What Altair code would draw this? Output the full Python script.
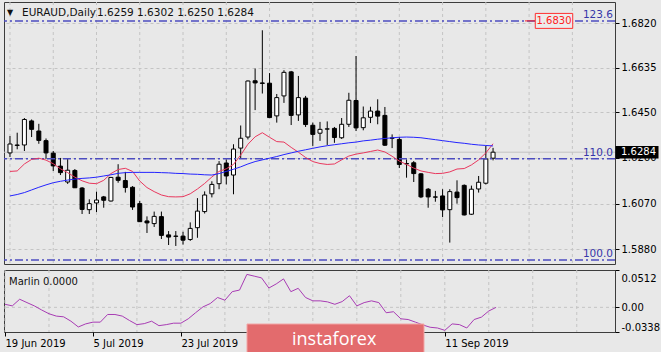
import altair as alt
import pandas as pd

# ---------------- data ----------------
opens = [1.6281, 1.6312, 1.6314, 1.6414, 1.6372, 1.6332, 1.6280, 1.6226, 1.6160, 1.6208,
         1.6135, 1.6045, 1.6073, 1.6098, 1.6081, 1.6180, 1.6166, 1.6138, 1.6070, 1.5998,
         1.5987, 1.6016, 1.5940, 1.5935, 1.5935, 1.5921, 1.5970, 1.6037, 1.6111, 1.6153,
         1.6239, 1.6189, 1.6301, 1.6347, 1.6581, 1.6572, 1.6571, 1.6435, 1.6518, 1.6618,
         1.6439, 1.6509, 1.6396, 1.6363, 1.6380, 1.6383, 1.6344, 1.6400, 1.6499, 1.6386,
         1.6429, 1.6455, 1.6437, 1.6342, 1.6337, 1.6237, 1.6240, 1.6194, 1.6130, 1.6098,
         1.6102, 1.6045, 1.6118, 1.6146, 1.6026, 1.6131, 1.6155, 1.6259]
highs = [1.6351, 1.6365, 1.6426, 1.6420, 1.6402, 1.6341, 1.6289, 1.6260, 1.6258, 1.6214,
         1.6139, 1.6088, 1.6120, 1.6102, 1.6181, 1.6234, 1.6202, 1.6143, 1.6081, 1.6017,
         1.6037, 1.6037, 1.5956, 1.5956, 1.5953, 1.5992, 1.6093, 1.6121, 1.6163, 1.6247,
         1.6254, 1.6317, 1.6395, 1.6582, 1.6632, 1.6791, 1.6613, 1.6526, 1.6625, 1.6622,
         1.6601, 1.6518, 1.6407, 1.6410, 1.6412, 1.6389, 1.6426, 1.6531, 1.6684, 1.6474,
         1.6473, 1.6504, 1.6472, 1.6358, 1.6347, 1.6254, 1.6247, 1.6197, 1.6135, 1.6123,
         1.6130, 1.6130, 1.6167, 1.6150, 1.6145, 1.6185, 1.6310, 1.6302]
lows = [1.6264, 1.6296, 1.6289, 1.6347, 1.6319, 1.6256, 1.6206, 1.6189, 1.6152, 1.6135,
        1.6027, 1.6027, 1.6035, 1.6053, 1.6079, 1.6157, 1.6116, 1.6044, 1.5994, 1.5948,
        1.5973, 1.5923, 1.5898, 1.5894, 1.5900, 1.5915, 1.5928, 1.6029, 1.6096, 1.6130,
        1.6150, 1.6109, 1.6256, 1.6337, 1.6459, 1.6528, 1.6426, 1.6407, 1.6489, 1.6397,
        1.6414, 1.6389, 1.6310, 1.6331, 1.6314, 1.6323, 1.6339, 1.6389, 1.6372, 1.6375,
        1.6405, 1.6400, 1.6310, 1.6301, 1.6218, 1.6178, 1.6160, 1.6093, 1.6053, 1.6078,
        1.6014, 1.5908, 1.6070, 1.6021, 1.6023, 1.6116, 1.6150, 1.6250]
closes = [1.6318, 1.6314, 1.6420, 1.6379, 1.6333, 1.6281, 1.6227, 1.6199, 1.6209, 1.6136,
          1.6046, 1.6070, 1.6085, 1.6084, 1.6179, 1.6167, 1.6137, 1.6056, 1.5995, 1.5990,
          1.6017, 1.5938, 1.5931, 1.5934, 1.5918, 1.5967, 1.6039, 1.6106, 1.6150, 1.6234,
          1.6185, 1.6297, 1.6342, 1.6580, 1.6572, 1.6570, 1.6428, 1.6511, 1.6616, 1.6437,
          1.6511, 1.6399, 1.6358, 1.6379, 1.6381, 1.6345, 1.6400, 1.6500, 1.6385, 1.6427,
          1.6455, 1.6434, 1.6313, 1.6343, 1.6233, 1.6235, 1.6195, 1.6098, 1.6098, 1.6097,
          1.6044, 1.6120, 1.6095, 1.6023, 1.6130, 1.6159, 1.6256, 1.6284]
ma_red = [1.6204, 1.6206, 1.6235, 1.6254, 1.6259, 1.6251, 1.6236, 1.6215, 1.6199, 1.6180,
          1.6165, 1.6155, 1.6153, 1.6167, 1.6195, 1.6212, 1.6217, 1.6204, 1.6164, 1.6137,
          1.6120, 1.6106, 1.6099, 1.6098, 1.6099, 1.6111, 1.6131, 1.6154, 1.6181, 1.6204,
          1.6215, 1.6233, 1.6272, 1.6317, 1.6348, 1.6365, 1.6346, 1.6328, 1.6326, 1.6304,
          1.6284, 1.6262, 1.6245, 1.6237, 1.6233, 1.6235, 1.6252, 1.6268, 1.6276, 1.6281,
          1.6287, 1.6293, 1.6285, 1.6267, 1.6247, 1.6233, 1.6218, 1.6206, 1.6200, 1.6195,
          1.6196, 1.6202, 1.6214, 1.6216, 1.6231, 1.6252, 1.6281, 1.6319]
ma_blue = [1.6102, 1.6108, 1.6116, 1.6127, 1.6138, 1.6148, 1.6157, 1.6163, 1.6168, 1.6172,
           1.6175, 1.6177, 1.6180, 1.6185, 1.6190, 1.6196, 1.6199, 1.6200, 1.6200, 1.6200,
           1.6200, 1.6199, 1.6198, 1.6196, 1.6195, 1.6193, 1.6192, 1.6190, 1.6189, 1.6195,
           1.6204, 1.6213, 1.6223, 1.6235, 1.6245, 1.6252, 1.6259, 1.6266, 1.6274, 1.6281,
           1.6288, 1.6294, 1.6300, 1.6306, 1.6311, 1.6315, 1.6319, 1.6323, 1.6326, 1.6331,
           1.6334, 1.6338, 1.6341, 1.6344, 1.6346, 1.6347, 1.6346, 1.6344, 1.6340, 1.6336,
           1.6332, 1.6328, 1.6324, 1.6321, 1.6317, 1.6314, 1.6312, 1.6310]
marlin = [0.0042, 0.0020, 0.0111, 0.0065, 0.0020, -0.0036, -0.0088, -0.0120, -0.0130, -0.0190,
          -0.0269, -0.0227, -0.0203, -0.0203, -0.0098, -0.0098, -0.0120, -0.0181, -0.0237, -0.0223,
          -0.0190, -0.0251, -0.0237, -0.0217, -0.0217, -0.0157, -0.0074, 0.0006, 0.0052, 0.0135,
          0.0098, 0.0215, 0.0237, 0.0452, 0.0428, 0.0404, 0.0265, 0.0321, 0.0390, 0.0215,
          0.0261, 0.0135, 0.0089, 0.0089, 0.0075, 0.0042, 0.0079, 0.0159, 0.0020, 0.0065,
          0.0089, 0.0065, -0.0074, -0.0060, -0.0157, -0.0167, -0.0203, -0.0241, -0.0273, -0.0283,
          -0.0315, -0.0227, -0.0237, -0.0283, -0.0167, -0.0134, -0.0050, 0.0000]

date_tick_idx = [0, 12, 24, 60]
date_tick_txt = ["19 Jun 2019", "5 Jul 2019", "23 Jul 2019", "11 Sep 2019"]
grid_idx = list(range(0, 84, 6))
price_ticks = [1.6820, 1.6635, 1.6450, 1.6260, 1.6070, 1.5880]
fib_levels = [1.5836, 1.6257, 1.6830]
fib_names = ["100.0", "110.0", "123.6"]
alert_price = [1.6830]
marlin_ticks = [0.0512, 0.0, -0.0338]
marlin_tick_txt = ["0.0512", "0.00", "-0.0338"]
symbol_name = "EURAUD,Daily"

# ---------------- frames ----------------
N = len(opens)
df = pd.DataFrame({"i": list(range(N)), "o": opens, "h": highs, "l": lows, "c": closes,
                   "red": ma_red, "blue": ma_blue, "m": marlin})
df["dir"] = ["up" if c >= o else "down" for o, c in zip(opens, closes)]
gdf = pd.DataFrame({"g": grid_idx})
fibdf = pd.DataFrame({"lvl": fib_levels, "name": fib_names})
cur = pd.DataFrame({"p": [closes[-1]], "t": [f"{closes[-1]:.4f}"]})
alert = pd.DataFrame({"p": alert_price, "t": [f"{alert_price[0]:.4f}"]})
hdr = pd.DataFrame({"a": ["\u25BC"], "n": [symbol_name],
                    "q": [f"{opens[-1]:.4f} {highs[-1]:.4f} {lows[-1]:.4f} {closes[-1]:.4f}"],
                    "mk": [f"Marlin {marlin[-1]:.4f}"], "w": ["instaforex"]})
zdf = pd.DataFrame({"z": [0.0]})

W, H_MAIN, H_SUB = 611, 262, 62
FONT = "DejaVu Sans"
GRID = "#c4c4c4"

xs = alt.Scale(domain=[-0.136, 83.22], nice=False, zero=False)
ys = alt.Scale(domain=[1.5819, 1.69086], nice=False, zero=False)
ms = alt.Scale(domain=[marlin_ticks[-1], marlin_ticks[0]], nice=False, zero=False)

yax = alt.Axis(orient="right", values=price_ticks, format=".4f", grid=True, gridDash=[3, 3],
               gridColor=GRID, tickSize=4, labelPadding=2, domain=False, title=None)

def X(f="i"):
    return alt.X(f"{f}:Q", scale=xs, axis=None)

def Y(f):
    return alt.Y(f"{f}:Q", scale=ys, axis=yax)

base = alt.Chart(df)

vgrid = alt.Chart(gdf).mark_rule(color=GRID, strokeDash=[3, 3], strokeWidth=1).encode(x=X("g"))
price_line = alt.Chart(cur).mark_rule(color="#c2c2c2", strokeWidth=1).encode(y=Y("p"))
wicks = base.mark_rule(color="black", strokeWidth=1).encode(x=X(), y=Y("l"), y2="h")
bodies = base.mark_bar(size=4, stroke="black", strokeWidth=1).encode(
    x=X(), y=Y("o"), y2="c",
    fill=alt.Fill("dir:N", scale=alt.Scale(domain=["up", "down"], range=["white", "black"]), legend=None))
fib = alt.Chart(fibdf).mark_rule(color="#4c4cc0", strokeDash=[8, 3, 2, 3], strokeWidth=1.5).encode(y=Y("lvl"))
red = base.mark_line(color="#e8385e", strokeWidth=1).encode(x=X(), y=Y("red"))
blue = base.mark_line(color="#2424ff", strokeWidth=1).encode(x=X(), y=Y("blue"))
fibtxt = alt.Chart(fibdf).mark_text(align="right", baseline="bottom", dy=-1, color="#3636a8",
                                    font=FONT, fontSize=10.5).encode(x=alt.value(609), y=Y("lvl"), text="name")
alert_line = alt.Chart(alert).mark_rule(color="#ff2020", strokeWidth=1).encode(
    x=alt.value(521), x2=alt.value(531), y=Y("p"))
alert_box = alt.Chart(alert).mark_point(shape="M-1,-0.4L1,-0.4L1,0.4L-1,0.4Z", size=1400, filled=True,
                                        fill="#ececec", stroke="#ff3030", strokeWidth=1, opacity=1).encode(
    x=alt.value(550), y=Y("p"))
alert_txt = alt.Chart(alert).mark_text(color="#ff2020", font=FONT, fontSize=10, baseline="middle").encode(
    x=alt.value(550), y=Y("p"), text="t")
cur_box = alt.Chart(cur).mark_point(shape="M-1,-0.29L1,-0.29L1,0.29L-1,0.29Z", size=1849, filled=True,
                                    color="black", opacity=1).encode(x=alt.value(633), y=Y("p"))
cur_txt = alt.Chart(cur).mark_text(color="white", font=FONT, fontSize=10, align="left", baseline="middle").encode(
    x=alt.value(617), y=Y("p"), text="t")
hdr_a = alt.Chart(hdr).mark_text(font=FONT, fontSize=8, color="#111111", baseline="middle").encode(
    x=alt.value(6), y=alt.value(11), text="a")
hdr_n = alt.Chart(hdr).mark_text(font=FONT, fontSize=10.5, color="#111111", align="left", baseline="middle").encode(
    x=alt.value(18), y=alt.value(11), text="n")
hdr_q = alt.Chart(hdr).mark_text(font=FONT, fontSize=10.5, color="#111111", align="left", baseline="middle").encode(
    x=alt.value(93), y=alt.value(11), text="q")

main = alt.layer(vgrid, price_line, wicks, bodies, fib, red, blue, fibtxt,
                 alert_line, alert_box, alert_txt, cur_box, cur_txt, hdr_a, hdr_n, hdr_q
                 ).properties(width=W, height=H_MAIN)

# ---------------- Marlin sub-panel ----------------
x_expr = " : ".join(f"datum.value == {i} ? '{t}'" for i, t in zip(date_tick_idx, date_tick_txt)) + " : ''"
m_expr = " : ".join(f"datum.value == {v} ? '{t}'" for v, t in zip(marlin_ticks, marlin_tick_txt)) + " : ''"

xax = alt.Axis(values=date_tick_idx, labelExpr=x_expr, labelAlign="left", labelFlush=False,
               labelOverlap=False, grid=False, domain=False, tickSize=4, labelPadding=2, title=None)
max_ = alt.Axis(orient="right", values=marlin_ticks, labelExpr=m_expr, grid=False, tickSize=4,
                labelPadding=2, domain=False, title=None, labelFlush=True,
                labelOffset={"condition": {"test": "datum.value > 0.04", "value": 3}, "value": 0})

def Xs(f="i"):
    return alt.X(f"{f}:Q", scale=xs, axis=xax)

def Ym(f):
    return alt.Y(f"{f}:Q", scale=ms, axis=max_)

vgrid2 = alt.Chart(gdf).mark_rule(color=GRID, strokeDash=[3, 3], strokeWidth=1).encode(x=Xs("g"))
zero = alt.Chart(zdf).mark_rule(color=GRID, strokeDash=[3, 3], strokeWidth=1).encode(y=Ym("z"))
mline = base.mark_line(color="#a83cb4", strokeWidth=1).encode(x=Xs(), y=Ym("m"))
mlabel = alt.Chart(hdr).mark_text(font=FONT, fontSize=10, color="#111111", align="left", baseline="middle").encode(
    x=alt.value(5), y=alt.value(12), text="mk")
wm_rect = alt.Chart(hdr).mark_rect(fill="#e36b6d", stroke="#f2a6a6", strokeWidth=1).encode(
    x=alt.value(243), x2=alt.value(420), y=alt.value(54), y2=alt.value(100))
wm_txt = alt.Chart(hdr).mark_text(font="Open Sans", fontSize=18, color="white", align="left",
                                  baseline="alphabetic").encode(x=alt.value(288), y=alt.value(75), text="w")

sub = alt.layer(vgrid2, zero, mline, mlabel, wm_rect, wm_txt).properties(width=W, height=H_SUB)

chart = alt.vconcat(main, sub, spacing=4).properties(
    padding={"left": 2, "top": 1, "right": 0, "bottom": 0},
    background="#e8e8e8",
).configure_view(
    stroke="#3c3c3c", strokeWidth=1
).configure_axis(
    labelFont=FONT, labelFontSize=10, labelColor="#000000", tickColor="#000000", tickWidth=1
)

chart.save("out.html", embed_options={"renderer": "svg", "actions": False})
